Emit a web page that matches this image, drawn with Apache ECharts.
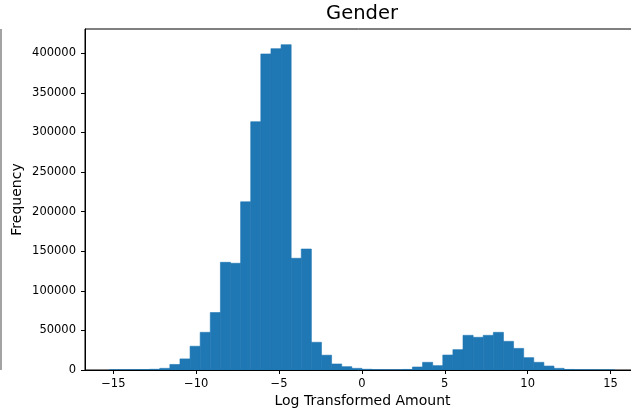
<!DOCTYPE html>
<html>
<head>
<meta charset="utf-8">
<script src="https://cdn.jsdelivr.net/npm/echarts@6/dist/echarts.min.js"></script>
<style>
html,body{margin:0;padding:0;background:#fff;}
#chart{width:631px;height:409px;}
</style>
</head>
<body>
<div id="chart"></div>
<script>
// Histogram: 50 equal-width bins
const binStart = -15.25;
const binWidth = 0.61;
const counts = [
  300, 400, 500, 600, 900, 2100, 7000, 14000, 30000, 47600,
  72600, 136000, 134800, 212400, 313600, 399200, 405900, 410900, 141100, 152800,
  35000, 18700, 7600, 4200, 2100, 900, 500, 300, 300, 700,
  3800, 9700, 5500, 18900, 25700, 43800, 41300, 43800, 47600, 36200,
  27300, 15600, 9700, 5000, 2100, 700, 400, 300, 200, 200
];
const xTicks = [-15, -10, -5, 0, 5, 10, 15];
const yTicks = [0, 50000, 100000, 150000, 200000, 250000, 300000, 350000, 400000];
const titleText = 'Gender';
const xName = 'Log Transformed Amount';
const yName = 'Frequency';

const histData = counts.map((c, i) => [binStart + i * binWidth, binStart + (i + 1) * binWidth, c]);

const chart = echarts.init(document.getElementById('chart'), null, {renderer: 'canvas'});
const font = 'DejaVu Sans';
chart.setOption({
  animation: false,
  backgroundColor: '#fff',
  title: {
    text: titleText, left: 362, top: 0, textAlign: 'center',
    padding: [4, 0, 0, 0],
    textStyle: {fontFamily: font, fontSize: 19.5, fontWeight: 'normal', color: '#000'}
  },
  grid: {left: 85, top: 29, bottom: 39, right: -9, show: true, borderColor: '#000', borderWidth: 1,
    containLabel: false, outerBoundsMode: 'none'},
  xAxis: {
    type: 'value', min: -16.71, max: 16.78, z: 5,
    name: xName, nameLocation: 'middle', nameGap: 24, nameMoveOverlap: false,
    nameTextStyle: {fontFamily: font, fontSize: 14, color: '#000'},
    axisLine: {show: true, onZero: false, lineStyle: {color: '#000', width: 1}},
    axisTick: {show: true, length: 4, lineStyle: {color: '#000'}, customValues: xTicks},
    axisLabel: {fontFamily: font, fontSize: 11.5, color: '#000', margin: 8, customValues: xTicks,
      formatter: v => (v < 0 ? '\u2212' + Math.abs(v) : String(v))},
    splitLine: {show: false}
  },
  yAxis: {
    type: 'value', min: 0, max: 430700, z: 5,
    name: yName, nameLocation: 'middle', nameGap: 61, nameMoveOverlap: false,
    nameTextStyle: {fontFamily: font, fontSize: 14, color: '#000'},
    axisLine: {show: true, onZero: false, lineStyle: {color: '#000', width: 1}},
    axisTick: {show: true, length: 4, lineStyle: {color: '#000'}, customValues: yTicks},
    axisLabel: {fontFamily: font, fontSize: 11.5, color: '#000', margin: 9, customValues: yTicks,
      formatter: v => String(v)},
    splitLine: {show: false}
  },
  graphic: [{
    type: 'line', shape: {x1: 1, y1: 29, x2: 1, y2: 370},
    style: {stroke: '#666', lineWidth: 1.2}
  }],
  series: [{
    type: 'custom',
    data: histData,
    encode: {x: [0, 1], y: 2},
    renderItem: function (params, api) {
      const p0 = api.coord([api.value(0), api.value(2)]);
      const p1 = api.coord([api.value(1), 0]);
      return {
        type: 'rect',
        shape: {x: p0[0], y: p0[1], width: p1[0] - p0[0], height: p1[1] - p0[1]},
        style: {fill: '#1f77b4', stroke: '#1f77b4', lineWidth: 0.6}
      };
    }
  }]
});
</script>
</body>
</html>
